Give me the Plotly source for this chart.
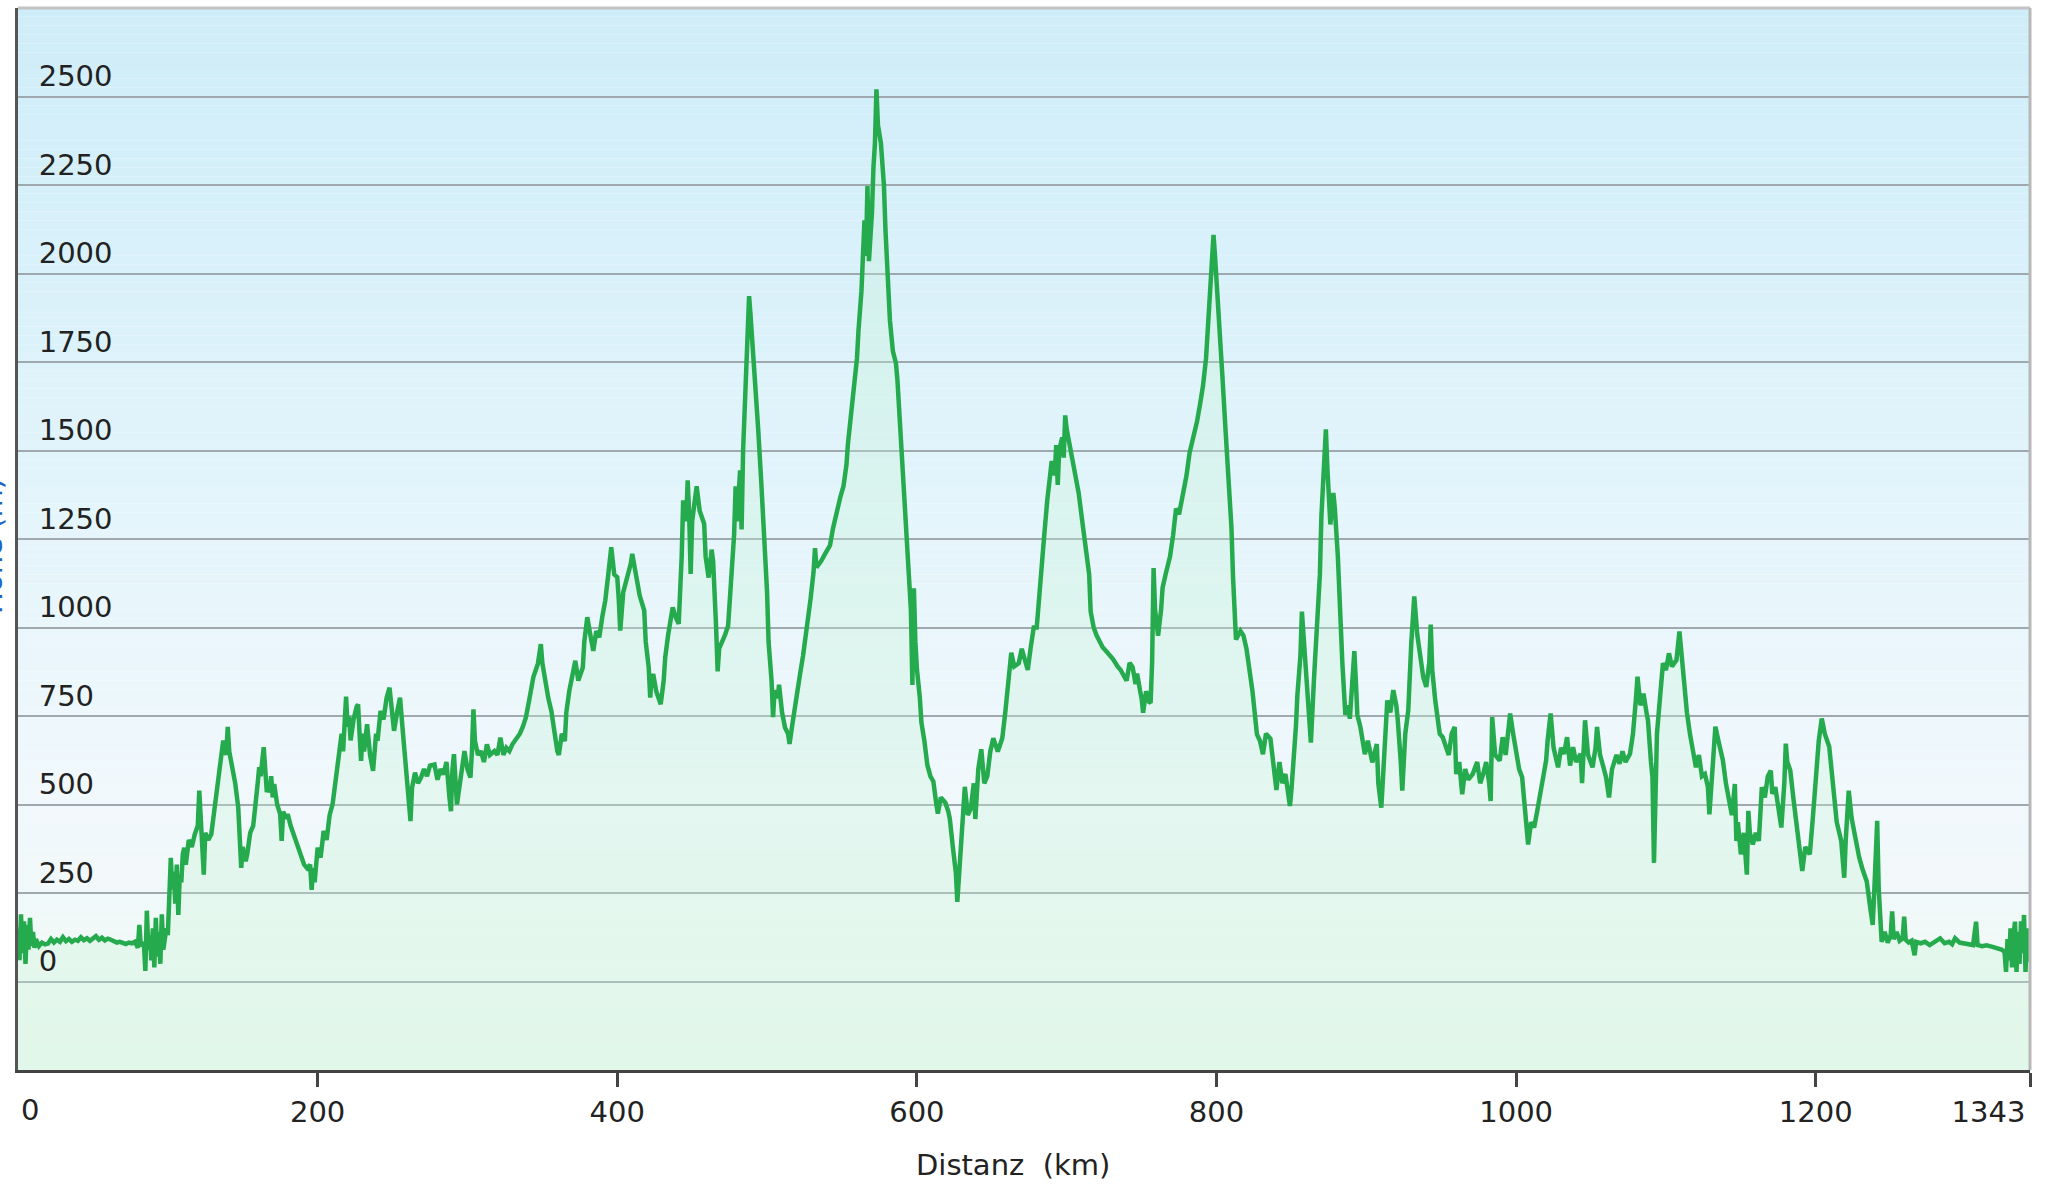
import plotly.graph_objects as go

# elevation profile (km, m)
distance_km = [
    0, 1, 2, 3, 4, 5, 6, 7, 8, 9, 10, 11, 12, 14, 16, 18, 20, 22, 24, 26, 28, 30, 32, 34, 36, 38, 40,
    42, 44, 46, 48, 50, 52, 54, 56, 58, 60, 62, 64, 66, 68, 70, 72, 74, 76, 78, 80, 81, 82, 84, 85,
    86, 87, 88, 89, 90, 91, 92, 93, 94, 95, 96, 97, 98, 99, 100, 101, 102, 103, 104, 105, 106, 107,
    108, 109, 110, 111, 112, 114, 116, 118, 120, 121, 122, 123, 124, 125, 127, 129, 131, 133, 135,
    137, 139, 140, 141, 143, 145, 147, 148, 149, 150, 152, 153, 155, 157, 158, 160, 161, 162, 164,
    165, 166, 168, 169, 170, 171, 173, 175, 176, 177, 179, 180, 182, 184, 186, 188, 189, 191, 193,
    195, 196, 197, 198, 200, 202, 204, 206, 208, 210, 212, 214, 216, 217, 218, 219, 220, 221, 222,
    224, 226, 227, 228, 229, 230, 231, 233, 235, 237, 239, 240, 242, 244, 246, 248, 249, 251, 253,
    255, 257, 259, 260, 262, 263, 265, 267, 269, 271, 273, 275, 278, 280, 282, 284, 286, 288, 289,
    290, 291, 293, 295, 298, 300, 302, 303, 304, 305, 307, 309, 311, 313, 315, 318, 320, 322, 324,
    326, 328, 330, 333, 335, 337, 339, 341, 342, 344, 347, 349, 350, 352, 354, 356, 358, 360, 361,
    363, 365, 366, 368, 370, 372, 374, 377, 378, 380, 382, 384, 386, 388, 390, 392, 394, 396, 398,
    400, 401, 402, 404, 407, 409, 410, 412, 413, 415, 418, 419, 421, 422, 423, 424, 426, 428, 429,
    431, 432, 434, 437, 439, 441, 443, 444, 446, 447, 448, 449, 450, 452, 453, 455, 458, 459, 461,
    463, 464, 466, 467, 468, 470, 472, 474, 476, 478, 479, 480, 482, 483, 484, 486, 487, 488, 489,
    491, 492, 494, 496, 498, 500, 501, 503, 504, 505, 507, 508, 510, 512, 514, 515, 517, 518, 520,
    522, 524, 527, 529, 531, 532, 533, 536, 539, 542, 544, 547, 549, 551, 553, 554, 556, 558, 560,
    561, 563, 564, 565, 566, 567, 568, 570, 571, 572, 573, 574, 576, 578, 579, 581, 582, 584, 586,
    587, 589, 591, 592, 594, 595, 596, 597, 598, 599, 600, 602, 603, 605, 607, 609, 611, 613, 614,
    616, 619, 621, 622, 624, 626, 627, 628, 630, 631, 632, 634, 636, 638, 639, 641, 643, 645, 647,
    649, 651, 654, 657, 659, 660, 662, 663, 665, 668, 670, 672, 674, 676, 678, 680, 683, 685, 687,
    690, 692, 693, 694, 695, 697, 698, 699, 700, 702, 704, 706, 708, 710, 712, 713, 715, 716, 718,
    720, 722, 724, 727, 729, 731, 734, 736, 738, 740, 742, 744, 746, 747, 749, 750, 751, 753, 755,
    756, 757, 758, 759, 761, 763, 764, 766, 769, 771, 773, 775, 778, 780, 782, 785, 787, 789, 791,
    793, 794, 796, 798, 799, 801, 803, 804, 806, 808, 810, 811, 812, 813, 816, 818, 820, 822, 824,
    827, 829, 831, 833, 836, 838, 840, 842, 844, 846, 848, 849, 850, 852, 853, 854, 856, 857, 858,
    860, 862, 863, 865, 867, 869, 870, 872, 873, 874, 876, 878, 879, 881, 882, 884, 886, 888, 889,
    891, 892, 893, 894, 896, 899, 901, 904, 907, 908, 910, 912, 914, 916, 918, 920, 921, 923, 924,
    926, 928, 930, 932, 934, 936, 938, 940, 942, 943, 944, 946, 948, 949, 951, 953, 955, 957, 959,
    960, 962, 964, 966, 968, 971, 974, 976, 978, 980, 982, 983, 984, 986, 989, 991, 993, 996, 998,
    1000, 1002, 1004, 1006, 1008, 1010, 1012, 1014, 1016, 1018, 1020, 1021, 1023, 1025, 1027, 1028,
    1030, 1032, 1034, 1036, 1038, 1040, 1043, 1044, 1046, 1048, 1051, 1053, 1054, 1056, 1058, 1060,
    1062, 1064, 1067, 1069, 1071, 1073, 1076, 1078, 1080, 1081, 1083, 1085, 1087, 1088, 1090, 1091,
    1092, 1093, 1094, 1096, 1098, 1100, 1102, 1104, 1107, 1109, 1110, 1112, 1114, 1116, 1118, 1120,
    1122, 1124, 1126, 1128, 1129, 1131, 1133, 1135, 1138, 1140, 1142, 1144, 1146, 1147, 1148, 1150,
    1152, 1154, 1155, 1156, 1158, 1160, 1162, 1163, 1164, 1166, 1168, 1170, 1171, 1173, 1175, 1177,
    1179, 1180, 1181, 1183, 1185, 1188, 1190, 1191, 1193, 1196, 1198, 1200, 1202, 1204, 1206, 1209,
    1211, 1212, 1214, 1217, 1219, 1220, 1222, 1224, 1225, 1227, 1229, 1231, 1234, 1236, 1238, 1239,
    1241, 1242, 1243, 1244, 1246, 1248, 1250, 1251, 1252, 1254, 1256, 1258, 1259, 1260, 1262, 1264,
    1266, 1267, 1270, 1273, 1276, 1279, 1281, 1283, 1286, 1289, 1291, 1293, 1296, 1299, 1302, 1305,
    1307, 1308, 1311, 1314, 1318, 1321, 1324, 1326, 1327, 1328, 1329, 1330, 1331, 1332, 1333, 1334,
    1335, 1336, 1337, 1338, 1339, 1340, 1341, 1342, 1343,
]
elevation_m = [
    150, 60, 190, 80, 170, 50, 160, 90, 180, 100, 140, 95, 120, 100, 110, 105, 107, 120, 110, 118, 112, 125, 114, 120, 112, 118, 115,
    125, 117, 122, 115, 120, 128, 118, 124, 116, 121, 118, 113, 110, 112, 108, 106, 110, 108, 112, 95, 160, 100, 110, 30,
    200, 90, 130, 60, 150, 40, 180, 70, 140, 50, 190, 90, 120, 150, 131, 250, 349, 260, 310, 220, 330, 188,
    302, 280, 360, 378, 330, 400, 380, 416, 440, 539, 473, 380, 302, 420, 400, 416, 480, 558, 600,
    681, 640, 719, 650, 605, 560, 492, 400, 321, 380, 340, 359, 420, 440, 492, 560, 605, 580, 662,
    600, 540, 539, 580, 520, 558, 500, 473, 397, 480, 460, 473, 440, 416, 390, 360, 349, 330, 320,
    330, 259, 321, 280, 378, 350, 425, 400, 470, 501, 560, 634, 700, 650, 760, 805, 720, 748, 681,
    740, 776, 783, 700, 623, 700, 650, 727, 640, 595, 700, 680, 764, 740, 800, 830, 780, 708, 760,
    802, 700, 604, 560, 453, 547, 590, 560, 576, 600, 580, 610, 613, 570, 600, 585, 620, 520, 481,
    600, 642, 500, 560, 651, 600, 576, 650, 769, 680, 640, 651, 620, 670, 640, 651, 640, 689, 640,
    660, 651, 670, 689, 700, 720, 746, 790, 821, 860, 897, 953, 900, 840, 800, 764, 700, 651, 640,
    700, 679, 760, 821, 860, 906, 850, 887, 960, 1029, 980, 934, 990, 972, 1030, 1076, 1150, 1227, 1150,
    1142, 1080, 991, 1100, 1142, 1180, 1208, 1160, 1123, 1090, 1048, 960, 887, 802, 860, 868, 820, 800, 783,
    850, 915, 980, 1057, 1030, 1010, 1200, 1359, 1300, 1416, 1320, 1151, 1300, 1378, 1399, 1330, 1293, 1200, 1141,
    1220, 1187, 1000, 876, 940, 959, 980, 1005, 1150, 1262, 1399, 1300, 1444, 1277, 1500, 1717, 1850, 1936, 1880,
    1762, 1700, 1565, 1420, 1262, 1100, 959, 850, 747, 823, 800, 838, 760, 717, 700, 671, 730, 762, 820,
    868, 920, 1005, 1080, 1156, 1224, 1170, 1187, 1210, 1232, 1280, 1338, 1370, 1399, 1460, 1520, 1600, 1671, 1760,
    1838, 1950, 2050, 2150, 2050, 2247, 2035, 2171, 2300, 2368, 2520, 2420, 2368, 2250, 2126, 1980, 1868, 1780, 1747,
    1700, 1565, 1420, 1338, 1230, 1156, 1050, 838, 1111, 960, 884, 800, 732, 680, 611, 580, 565, 500, 474,
    520, 505, 480, 459, 380, 308, 225, 300, 399, 480, 550, 470, 489, 560, 459, 600, 656, 560, 580,
    650, 687, 650, 687, 760, 808, 880, 929, 890, 899, 940, 914, 880, 944, 1000, 1000, 1180, 1260, 1358,
    1470, 1430, 1515, 1403, 1500, 1537, 1480, 1599, 1560, 1515, 1470, 1437, 1380, 1313, 1250, 1201, 1150, 1045, 1000,
    977, 960, 944, 930, 920, 910, 890, 880, 865, 850, 900, 888, 840, 870, 821, 800, 759, 820, 790,
    787, 900, 1168, 1050, 977, 1050, 1112, 1150, 1201, 1260, 1336, 1320, 1381, 1430, 1493, 1540, 1582, 1630, 1683,
    1760, 1840, 1950, 2109, 2050, 1929, 1800, 1705, 1560, 1425, 1280, 1145, 1050, 966, 990, 977, 940, 877, 820,
    698, 680, 642, 700, 686, 600, 541, 620, 560, 586, 530, 496, 540, 642, 720, 810, 920, 1045, 980,
    866, 760, 675, 850, 977, 1150, 1313, 1450, 1560, 1450, 1291, 1380, 1336, 1200, 1089, 900, 753, 780, 742,
    850, 933, 850, 753, 720, 642, 680, 619, 671, 560, 491, 650, 794, 760, 823, 780, 738, 620, 539,
    700, 766, 955, 1088, 980, 908, 860, 832, 900, 1008, 880, 794, 740, 700, 690, 662, 640, 700, 719,
    586, 620, 529, 600, 570, 586, 620, 560, 586, 620, 560, 510, 747, 640, 624, 690, 640, 757, 700,
    643, 600, 577, 480, 387, 450, 435, 480, 529, 580, 624, 680, 757, 660, 620, 605,
    660, 643, 690, 610, 662, 620, 643, 560, 738, 640, 605, 660, 719, 640, 610, 577,
    520, 600, 640, 615, 650, 620, 643, 700, 800, 861, 780, 813, 760, 738, 620, 577,
    335, 560, 700, 800, 899, 880, 927, 890, 908, 989, 940, 832, 760, 700, 650, 605,
    640, 580, 586, 550, 472, 600, 720, 680, 625, 560, 511, 470, 558, 397, 450, 359,
    420, 302, 482, 420, 387, 420, 397, 470, 549, 520, 580, 596, 530, 549, 480, 435,
    560, 672, 620, 596, 520, 416, 360, 312, 380, 359, 460, 577, 680, 743, 700, 663,
    580, 511, 450, 397, 293, 400, 539, 460, 435, 390, 350, 320, 283, 220, 160, 250,
    454, 264, 180, 112, 140, 110, 131, 198, 120, 140, 115, 122, 183, 118, 110, 115,
    74, 112, 108, 112, 103, 112, 115, 122, 108, 112, 105, 122, 110, 108, 105, 103,
    169, 103, 100, 102, 98, 95, 90, 84, 27, 120, 60, 150, 40, 130, 169, 27,
    140, 50, 170, 80, 188, 27, 150, 55, 120,
]

y_ticks = [0, 250, 500, 750, 1000, 1250, 1500, 1750, 2000, 2250, 2500]
x_ticks = [0, 200, 400, 600, 800, 1000, 1200, 1343]
# the first label is drawn as an annotation (plotly drops it at the corner)
x_tick_text = ["", "200", "400", "600", "800", "1000", "1200", "1343" + "\u00a0" * 9]

# background gradient stops (elevation level -> colour)
bg_levels = [-250, 0, 500, 1250, 2000, 2750]
bg_colors = ["#eefaf3", "#f0f9f6", "#f1f8fc", "#e5f5fb", "#d9f1fa", "#cfedf8"]

Y_BOTTOM, Y_TOP = -250, 2750
FONT = "DejaVu Sans, Verdana, sans-serif"
LINE_GREEN = "#25ab4e"


def hex_rgb(h):
    return tuple(int(h[i:i + 2], 16) for i in (1, 3, 5))


def bg_color_at(v):
    for i in range(len(bg_levels) - 1):
        a, b = bg_levels[i], bg_levels[i + 1]
        if a <= v <= b:
            t = (v - a) / (b - a)
            c0, c1 = hex_rgb(bg_colors[i]), hex_rgb(bg_colors[i + 1])
            r, g, bl = (round(c0[k] + (c1[k] - c0[k]) * t) for k in range(3))
            return f"rgb({r},{g},{bl})"
    return bg_colors[-1]


fig = go.Figure()

# invisible floor so the area fill reaches the bottom of the plot
fig.add_trace(go.Scatter(
    x=[distance_km[0], distance_km[-1]], y=[Y_BOTTOM, Y_BOTTOM], mode="lines",
    line=dict(width=0), hoverinfo="skip", showlegend=False,
))

fig.add_trace(go.Scatter(
    x=distance_km, y=elevation_m, mode="lines",
    line=dict(color=LINE_GREEN, width=4.5),
    fill="tonexty", fillcolor="rgba(200,242,214,0.32)",
    hoverinfo="x+y", showlegend=False,
))

# vertical gradient behind the grid, built from thin bands
step = 25
for lo in range(Y_BOTTOM, Y_TOP, step):
    fig.add_shape(type="rect", xref="paper", yref="y", x0=0, x1=1, y0=lo, y1=lo + step,
                  fillcolor=bg_color_at(lo + step / 2), line=dict(width=0), layer="below")

fig.update_layout(
    width=2048, height=1191,
    margin=dict(l=18, r=18, t=8, b=121),
    paper_bgcolor="white", plot_bgcolor="white",
    font=dict(family=FONT, size=29, color="#222222"),
    showlegend=False,
)

fig.update_xaxes(
    range=[0, 1343], tickvals=x_ticks, ticktext=x_tick_text,
    showgrid=False, zeroline=False, automargin=False,
    showline=True, linecolor="#444444", linewidth=3,
    ticks="outside", ticklen=14, tickwidth=3, tickcolor="#444444",
    ticklabeloverflow="allow", ticklabelstandoff=0,
    tickfont=dict(family=FONT, size=29, color="#222222"),
)

fig.update_yaxes(
    range=[Y_BOTTOM, Y_TOP], tickvals=y_ticks,
    showgrid=True, gridcolor="#9ea8ad", gridwidth=2, zeroline=False, automargin=False,
    showline=True, linecolor="#555555", linewidth=3,
    ticks="", ticklabelposition="inside top", ticklabelstandoff=22, ticklabelshift=0,
    tickfont=dict(family=FONT, size=29, color="#222222"),
)

# light frame on top and right
fig.add_shape(type="line", xref="paper", yref="paper", x0=0, x1=1, y0=1, y1=1,
              line=dict(color="#c4c4c4", width=3))
fig.add_shape(type="line", xref="paper", yref="paper", x0=1, x1=1, y0=0, y1=1,
              line=dict(color="#b8b8b8", width=3))

# first x tick label, nudged right of its tick like the original
fig.add_annotation(
    text="0", xref="x", yref="paper", x=0, y=-0.0377, xshift=12,
    xanchor="center", yanchor="middle", showarrow=False,
    font=dict(family=FONT, size=29, color="#222222"),
)

# x-axis title
fig.add_annotation(
    text="Distanz\u00a0 (km)", xref="paper", yref="paper", x=0.4945, y=-0.089,
    xanchor="center", yanchor="middle", showarrow=False,
    font=dict(family=FONT, size=29, color="#222222"),
)

# y-axis title, mostly cut off by the left page edge
fig.add_annotation(
    text="Höhe (m)", xref="paper", yref="y", x=-0.013, y=1230,
    xanchor="center", yanchor="middle", textangle=-90, showarrow=False,
    font=dict(family=FONT, size=29, color="#1a64c8"),
)

fig.write_html("out.html", config={"displayModeBar": False},
               post_script="document.body.style.margin='0';")
